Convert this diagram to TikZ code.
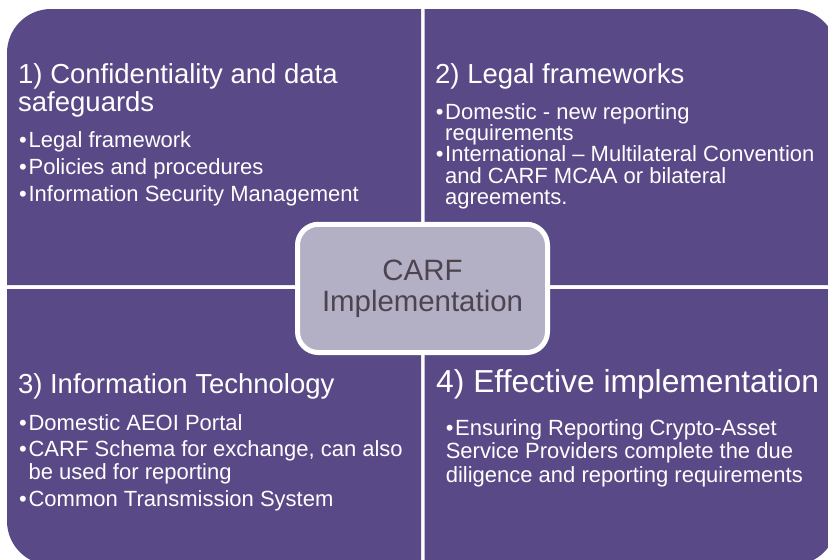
\documentclass[tikz,border=0pt]{standalone}
\usepackage{fontspec}
\setmainfont{Liberation Sans}

\definecolor{carfpurple}{RGB}{89,73,135}
\definecolor{hubfill}{RGB}{179,175,196}
\definecolor{hubtext}{RGB}{78,68,80}

% stacked lines with a fixed distance between baselines; baseline = first line
\newcommand{\linesbox}[2]{\vtop{\baselineskip=#1\lineskiplimit=-\maxdimen\lineskip=0pt\halign{##\hfil\cr#2\crcr}}}
% bullet sign followed by its gap
\newcommand{\bul}{\makebox[9.4pt][l]{•}}

\tikzset{
  quad/.style={fill=carfpurple},
  headtxt/.style={anchor=base west, inner sep=0pt, text=white, font=\fontsize{27.5}{28}\selectfont},
  itemtxt/.style={anchor=base west, inner sep=0pt, text=white, font=\fontsize{22}{22}\selectfont},
  hubbox/.style={draw=white, line width=5pt, fill=hubfill, rounded corners=21pt,
    minimum width=250pt, minimum height=128.3pt, inner sep=0pt,
    align=center, text=hubtext, font=\fontsize{29.4}{31}\selectfont}
}

\begin{document}
\begin{tikzpicture}[x=1pt,y=-1pt]
  \useasboundingbox (0,0) rectangle (828,560);
  \clip (0,0) rectangle (828,560);
  \fill[white] (0,0) rectangle (828,560);

  % four quadrants, each with one rounded outer corner
  \fill[quad] (421,285) -- (7,285) -- (7,53) arc[start angle=180,end angle=270,radius=44] -- (421,9) -- cycle;
  \fill[quad] (424.5,9) -- (793,9) arc[start angle=270,end angle=360,radius=44] -- (837,285) -- (424.5,285) -- cycle;
  \fill[quad] (7,289) -- (421,289) -- (421,565) -- (51,565) arc[start angle=90,end angle=180,radius=44] -- cycle;
  \fill[quad] (424.5,289) -- (837,289) -- (837,521) arc[start angle=0,end angle=90,radius=44] -- (424.5,565) -- cycle;

  % 1) confidentiality
  \node[headtxt] (h1) at (18,83.3) {\linesbox{27.7pt}{1) Confidentiality and data\cr safeguards}};
  \node[itemtxt] (b1a) at (19,147) {\bul Legal framework};
  \node[itemtxt] (b1b) at (19,174) {\bul Policies and procedures};
  \node[itemtxt] (b1c) at (19,201) {\bul Information Security Management};

  % 2) legal frameworks
  \node[headtxt] (h2) at (435,83) {2) Legal frameworks};
  \node[itemtxt] (b2a) at (435.6,119) {\bul\linesbox{21.5pt}{Domestic - new reporting\cr requirements}};
  \node[itemtxt] (b2b) at (435.6,161.7) {\bul\linesbox{21.5pt}{International – Multilateral Convention\cr and CARF MCAA or bilateral\cr agreements.}};

  % 3) information technology
  \node[headtxt] (h3) at (17.8,393.3) {3) Information Technology};
  \node[itemtxt] (b3a) at (19,430) {\bul Domestic AEOI Portal};
  \node[itemtxt] (b3b) at (19,456.7) {\bul\linesbox{22.6pt}{CARF Schema for exchange, can also\cr be used for reporting}};
  \node[itemtxt] (b3c) at (19,506.7) {\bul Common Transmission System};

  % 4) effective implementation
  \node[headtxt, font=\fontsize{31.8}{32}\selectfont] (h4) at (436,392.5) {4) Effective implementation};
  \node[itemtxt] (b4a) at (445.6,435) {\linesbox{23.7pt}{\bul Ensuring Reporting Crypto-Asset\cr Service Providers complete the due\cr diligence and reporting requirements}};

  % central hub
  \node[hubbox] (hub) at (422.5,288.4) {CARF\\Implementation};
\end{tikzpicture}
\end{document}
